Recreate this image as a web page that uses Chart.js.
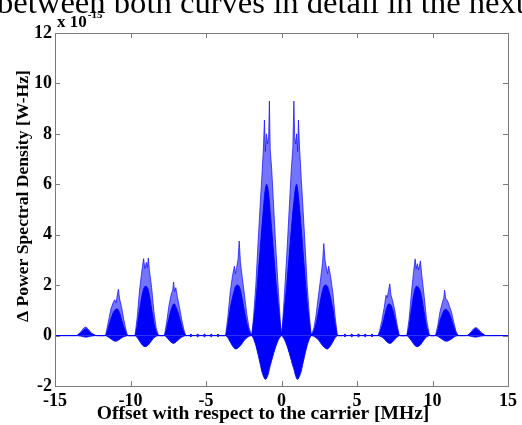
<!DOCTYPE html>
<html>
<head>
<meta charset="utf-8">
<script src="https://cdn.jsdelivr.net/npm/chart.js@4.4.1/dist/chart.umd.min.js"></script>
<style>
  html, body { margin: 0; padding: 0; background: #ffffff; }
  #wrap { position: relative; width: 522px; height: 425px; }
</style>
</head>
<body>
<div id="wrap"><canvas id="psd" width="522" height="425"></canvas></div>
<script>
// Offset from the carrier, MHz
const freqMHz = [
  -15, -13.55, -13.3, -13.1, -12.95, -12.8, -12.6, -12.3,
  -11.65, -11.5, -11.3, -11.15, -11.05, -10.95, -10.85, -10.8, -10.72, -10.6, -10.45, -10.3, -10.2,
  -9.7, -9.55, -9.4, -9.25, -9.13, -9.05, -8.95, -8.88, -8.82, -8.75, -8.6, -8.45, -8.3, -8.15,
  -7.75, -7.6, -7.45, -7.3, -7.2, -7.15, -7.08, -7.0, -6.9, -6.75, -6.6, -6.45, -6.35,
  -6.1, -6.0, -5.9, -5.65, -5.55, -5.45, -5.2, -5.1, -5.0, -4.75, -4.65, -4.55, -4.3, -4.2, -4.1,
  -3.7, -3.55, -3.4, -3.25, -3.12, -3.05, -2.97, -2.88, -2.8, -2.72, -2.6, -2.45, -2.3, -2.15,
  -1.97, -1.85, -1.7, -1.55, -1.4, -1.3, -1.2, -1.13, -1.07, -1.0, -0.92, -0.85, -0.8, -0.75, -0.65, -0.5, -0.35, -0.2, -0.08,
  0, 0.08, 0.2, 0.35, 0.5, 0.65, 0.75, 0.82, 0.87, 0.94, 1.0, 1.07, 1.12, 1.2, 1.3, 1.4, 1.55, 1.7, 1.85,
  1.97, 2.15, 2.3, 2.45, 2.6, 2.72, 2.8, 2.88, 2.97, 3.05, 3.12, 3.25, 3.4, 3.55, 3.7,
  4.1, 4.2, 4.3, 4.55, 4.65, 4.75, 5.0, 5.1, 5.2, 5.45, 5.55, 5.65, 5.9, 6.0, 6.1,
  6.4, 6.5, 6.65, 6.8, 6.92, 7.0, 7.08, 7.17, 7.25, 7.35, 7.5, 7.65, 7.8,
  8.3, 8.45, 8.6, 8.75, 8.85, 8.92, 9.0, 9.08, 9.2, 9.3, 9.45, 9.6, 9.8,
  10.2, 10.35, 10.5, 10.65, 10.75, 10.8, 10.88, 10.98, 11.1, 11.25, 11.4, 11.55, 11.7,
  12.3, 12.5, 12.7, 12.85, 13.0, 13.2, 13.5, 15
];

// Tallest excursions of the difference spectrum (x 1e-15 W-Hz)
const spikeEnv = [
  0, 0, 0.14, 0.3, 0.34, 0.26, 0.1, 0,
  0, 0.45, 1.05, 1.3, 1.42, 1.3, 1.7, 1.84, 1.45, 1.15, 0.65, 0.22, 0,
  0, 0.75, 1.8, 2.55, 3.05, 2.65, 2.9, 2.7, 3.08, 2.6, 1.9, 0.95, 0.3, 0,
  0, 0.55, 1.2, 1.65, 1.8, 2.12, 1.75, 1.9, 1.55, 1.1, 0.6, 0.2, 0,
  0, 0.05, 0, 0, 0.05, 0, 0, 0.05, 0, 0, 0.05, 0, 0, 0.05, 0,
  0, 0.75, 1.7, 2.35, 2.75, 2.45, 2.7, 3.0, 3.75, 2.9, 2.3, 1.6, 0.85, 0.3,
  0, 0.75, 2.0, 3.7, 5.3, 6.3, 7.4, 8.55, 7.3, 8.0, 7.6, 7.9, 9.3, 7.4, 6.6, 4.9, 3.2, 1.7, 0.55,
  0, 0.55, 1.7, 3.2, 4.9, 6.6, 7.4, 9.3, 7.9, 7.6, 8.0, 7.3, 8.55, 7.4, 6.3, 5.3, 3.7, 2.0, 0.75,
  0, 0.3, 0.85, 1.6, 2.3, 2.9, 3.65, 3.0, 2.7, 2.45, 2.75, 2.35, 1.7, 0.75, 0,
  0, 0.05, 0, 0, 0.05, 0, 0, 0.05, 0, 0, 0.05, 0, 0, 0.05, 0,
  0, 0.2, 0.6, 1.1, 1.6, 1.5, 1.75, 2.05, 1.6, 1.4, 1.0, 0.45, 0,
  0, 0.65, 1.65, 2.55, 3.04, 2.65, 2.85, 2.6, 2.96, 2.35, 1.55, 0.65, 0,
  0, 0.4, 0.95, 1.3, 1.5, 1.8, 1.45, 1.4, 1.2, 0.95, 0.55, 0.18, 0,
  0, 0.1, 0.26, 0.32, 0.28, 0.14, 0, 0
];

// Dense upper body of each lobe
const coreEnv = [
  0, 0, 0.1, 0.22, 0.28, 0.2, 0.08, 0,
  0, 0.25, 0.65, 0.9, 1.0, 1.05, 1.05, 1.0, 0.9, 0.65, 0.35, 0.1, 0,
  0, 0.4, 1.0, 1.55, 1.85, 1.95, 1.95, 1.9, 1.8, 1.6, 1.05, 0.5, 0.15, 0,
  0, 0.3, 0.7, 1.05, 1.2, 1.25, 1.25, 1.15, 1.0, 0.7, 0.35, 0.1, 0,
  0, 0.05, 0, 0, 0.05, 0, 0, 0.05, 0, 0, 0.05, 0, 0, 0.05, 0,
  0, 0.45, 1.05, 1.5, 1.8, 1.95, 2.0, 2.0, 1.95, 1.8, 1.45, 0.95, 0.5, 0.18,
  0, 0.5, 1.3, 2.4, 3.5, 4.3, 5.0, 5.5, 5.8, 6.0, 5.9, 5.6, 5.3, 4.9, 4.2, 3.1, 2.0, 1.1, 0.4,
  0, 0.4, 1.1, 2.0, 3.1, 4.2, 4.9, 5.3, 5.6, 5.9, 6.0, 5.8, 5.5, 5.0, 4.3, 3.5, 2.4, 1.3, 0.5,
  0, 0.18, 0.5, 0.95, 1.45, 1.8, 1.95, 2.0, 2.0, 1.95, 1.8, 1.5, 1.05, 0.45, 0,
  0, 0.05, 0, 0, 0.05, 0, 0, 0.05, 0, 0, 0.05, 0, 0, 0.05, 0,
  0, 0.1, 0.35, 0.7, 1.0, 1.15, 1.25, 1.25, 1.2, 1.05, 0.7, 0.3, 0,
  0, 0.35, 1.0, 1.6, 1.85, 1.95, 1.95, 1.9, 1.75, 1.45, 0.9, 0.35, 0,
  0, 0.2, 0.6, 0.85, 0.98, 1.02, 1.05, 1.0, 0.9, 0.65, 0.35, 0.1, 0,
  0, 0.08, 0.2, 0.28, 0.22, 0.1, 0, 0
];

// Negative swing of each lobe
const troughEnv = [
  0, 0, -0.02, -0.05, -0.06, -0.05, -0.02, 0,
  0, -0.05, -0.13, -0.19, -0.22, -0.22, -0.2, -0.18, -0.15, -0.1, -0.05, -0.02, 0,
  0, -0.08, -0.22, -0.35, -0.42, -0.44, -0.43, -0.4, -0.37, -0.32, -0.2, -0.09, -0.03, 0,
  0, -0.07, -0.18, -0.27, -0.3, -0.31, -0.29, -0.26, -0.21, -0.13, -0.06, -0.02, 0,
  0, -0.05, 0, 0, -0.05, 0, 0, -0.05, 0, 0, -0.05, 0, 0, -0.05, 0,
  0, -0.09, -0.25, -0.4, -0.5, -0.53, -0.52, -0.49, -0.45, -0.4, -0.3, -0.18, -0.09, -0.03,
  0, -0.12, -0.38, -0.75, -1.15, -1.42, -1.6, -1.7, -1.74, -1.7, -1.6, -1.45, -1.33, -1.2, -0.98, -0.66, -0.38, -0.16, -0.05,
  0, -0.05, -0.16, -0.38, -0.66, -0.98, -1.2, -1.33, -1.45, -1.6, -1.7, -1.74, -1.7, -1.6, -1.42, -1.15, -0.75, -0.38, -0.12,
  0, -0.03, -0.09, -0.18, -0.3, -0.4, -0.45, -0.49, -0.52, -0.53, -0.5, -0.4, -0.25, -0.09, 0,
  0, -0.05, 0, 0, -0.05, 0, 0, -0.05, 0, 0, -0.05, 0, 0, -0.05, 0,
  0, -0.02, -0.06, -0.13, -0.21, -0.26, -0.29, -0.31, -0.3, -0.25, -0.16, -0.06, 0,
  0, -0.08, -0.2, -0.33, -0.4, -0.43, -0.44, -0.42, -0.37, -0.28, -0.16, -0.05, 0,
  0, -0.03, -0.09, -0.15, -0.19, -0.21, -0.22, -0.22, -0.19, -0.14, -0.07, -0.02, 0,
  0, -0.02, -0.05, -0.06, -0.05, -0.02, 0, 0
];

const xTickValues = [-15, -10, -5, 0, 5, 10, 15];
const yTickValues = [-2, 0, 2, 4, 6, 8, 10, 12];

// Last line of the paragraph above the figure
const CAPTION = 'between both curves in detail in the next';
const X_TITLE = 'Offset with respect to the carrier [MHz]';
const Y_TITLE = 'Δ Power Spectral Density [W-Hz]';

const toPoints = (ys) => freqMHz.map((f, i) => ({ x: f, y: ys[i] }));

const SERIF = '"Liberation Serif", "Times New Roman", serif';

// Picks the font size that makes a string span the given width
function fitText(ctx, text, weight, width, baseSize) {
  ctx.font = (weight + ' ' + baseSize + 'px ' + SERIF).trim();
  const size = baseSize * width / ctx.measureText(text).width;
  ctx.font = (weight + ' ' + size.toFixed(2) + 'px ' + SERIF).trim();
}

const framePlugin = {
  id: 'frameTicks',
  afterDraw(chart) {
    const { ctx, chartArea: a, scales } = chart;
    const len = 5;
    ctx.save();
    // frame and inward ticks on all four sides
    ctx.strokeStyle = '#7a7a7a';
    ctx.lineWidth = 1;
    ctx.beginPath();
    xTickValues.forEach(v => {
      const px = Math.round(scales.x.getPixelForValue(v)) + 0.5;
      ctx.moveTo(px, a.bottom); ctx.lineTo(px, a.bottom - len);
      ctx.moveTo(px, a.top); ctx.lineTo(px, a.top + len);
    });
    yTickValues.forEach(v => {
      const py = Math.round(scales.y.getPixelForValue(v)) + 0.5;
      ctx.moveTo(a.left, py); ctx.lineTo(a.left + len, py);
      ctx.moveTo(a.right, py); ctx.lineTo(a.right - len, py);
    });
    ctx.stroke();
    ctx.strokeRect(Math.round(a.left) + 0.5, Math.round(a.top) + 0.5,
                   Math.round(a.right - a.left), Math.round(a.bottom - a.top));

    ctx.fillStyle = '#000';

    // running text, cut by the top edge
    ctx.textAlign = 'left';
    ctx.textBaseline = 'alphabetic';
    fitText(ctx, CAPTION, '', 528, 30);
    ctx.fillText(CAPTION, -3, 12.5);

    // axis multiplier
    ctx.font = 'bold 17px ' + SERIF;
    ctx.fillText('x 10', a.left + 2, 27);
    const w = ctx.measureText('x 10').width;
    ctx.font = 'bold 11px ' + SERIF;
    ctx.fillText('-15', a.left + 2 + w + 1, 18);

    // axis titles
    ctx.textAlign = 'center';
    ctx.textBaseline = 'middle';
    fitText(ctx, X_TITLE, 'bold', 333, 18);
    ctx.fillText(X_TITLE, 263, 414);
    ctx.save();
    ctx.translate(23, 196);
    ctx.rotate(-Math.PI / 2);
    fitText(ctx, Y_TITLE, 'bold', 252, 18);
    ctx.fillText(Y_TITLE, 0, 0);
    ctx.restore();
    ctx.restore();
  }
};

new Chart(document.getElementById('psd'), {
  type: 'line',
  data: {
    datasets: [
      {
        label: 'trough',
        data: toPoints(troughEnv),
        borderColor: '#0000ff',
        backgroundColor: '#0000ff',
        borderWidth: 1,
        fill: 'origin',
        tension: 0.1,
        order: 1
      },
      {
        label: 'core',
        data: toPoints(coreEnv),
        borderColor: '#0000ff',
        backgroundColor: '#0000ff',
        borderWidth: 1,
        fill: 'origin',
        tension: 0.1,
        order: 2
      },
      {
        label: 'spikes',
        data: toPoints(spikeEnv),
        borderColor: 'rgba(20,20,255,0.75)',
        backgroundColor: 'rgba(50,50,255,0.68)',
        borderWidth: 1,
        fill: 'origin',
        tension: 0,
        order: 3
      }
    ]
  },
  options: {
    responsive: false,
    animation: false,
    devicePixelRatio: 1,
    elements: { point: { radius: 0 } },
    layout: { padding: { top: 33, right: 7, left: 0, bottom: 0 } },
    plugins: { legend: { display: false }, tooltip: { enabled: false } },
    scales: {
      x: {
        type: 'linear',
        min: -15, max: 15,
        afterBuildTicks: (s) => { s.ticks = xTickValues.map(v => ({ value: v })); },
        afterFit: (s) => { s.height = 39; },
        grid: { display: false, drawTicks: false },
        border: { display: false },
        ticks: {
          color: '#000', padding: 5, maxRotation: 0,
          font: { family: SERIF, size: 18, weight: 'bold' }
        }
      },
      y: {
        type: 'linear',
        min: -2, max: 12,
        afterBuildTicks: (s) => { s.ticks = yTickValues.map(v => ({ value: v })); },
        afterFit: (s) => { s.width = 55; },
        grid: { display: false, drawTicks: false },
        border: { display: false },
        ticks: {
          color: '#000', padding: 3,
          font: { family: SERIF, size: 18, weight: 'bold' }
        }
      }
    }
  },
  plugins: [framePlugin]
});
</script>
</body>
</html>
